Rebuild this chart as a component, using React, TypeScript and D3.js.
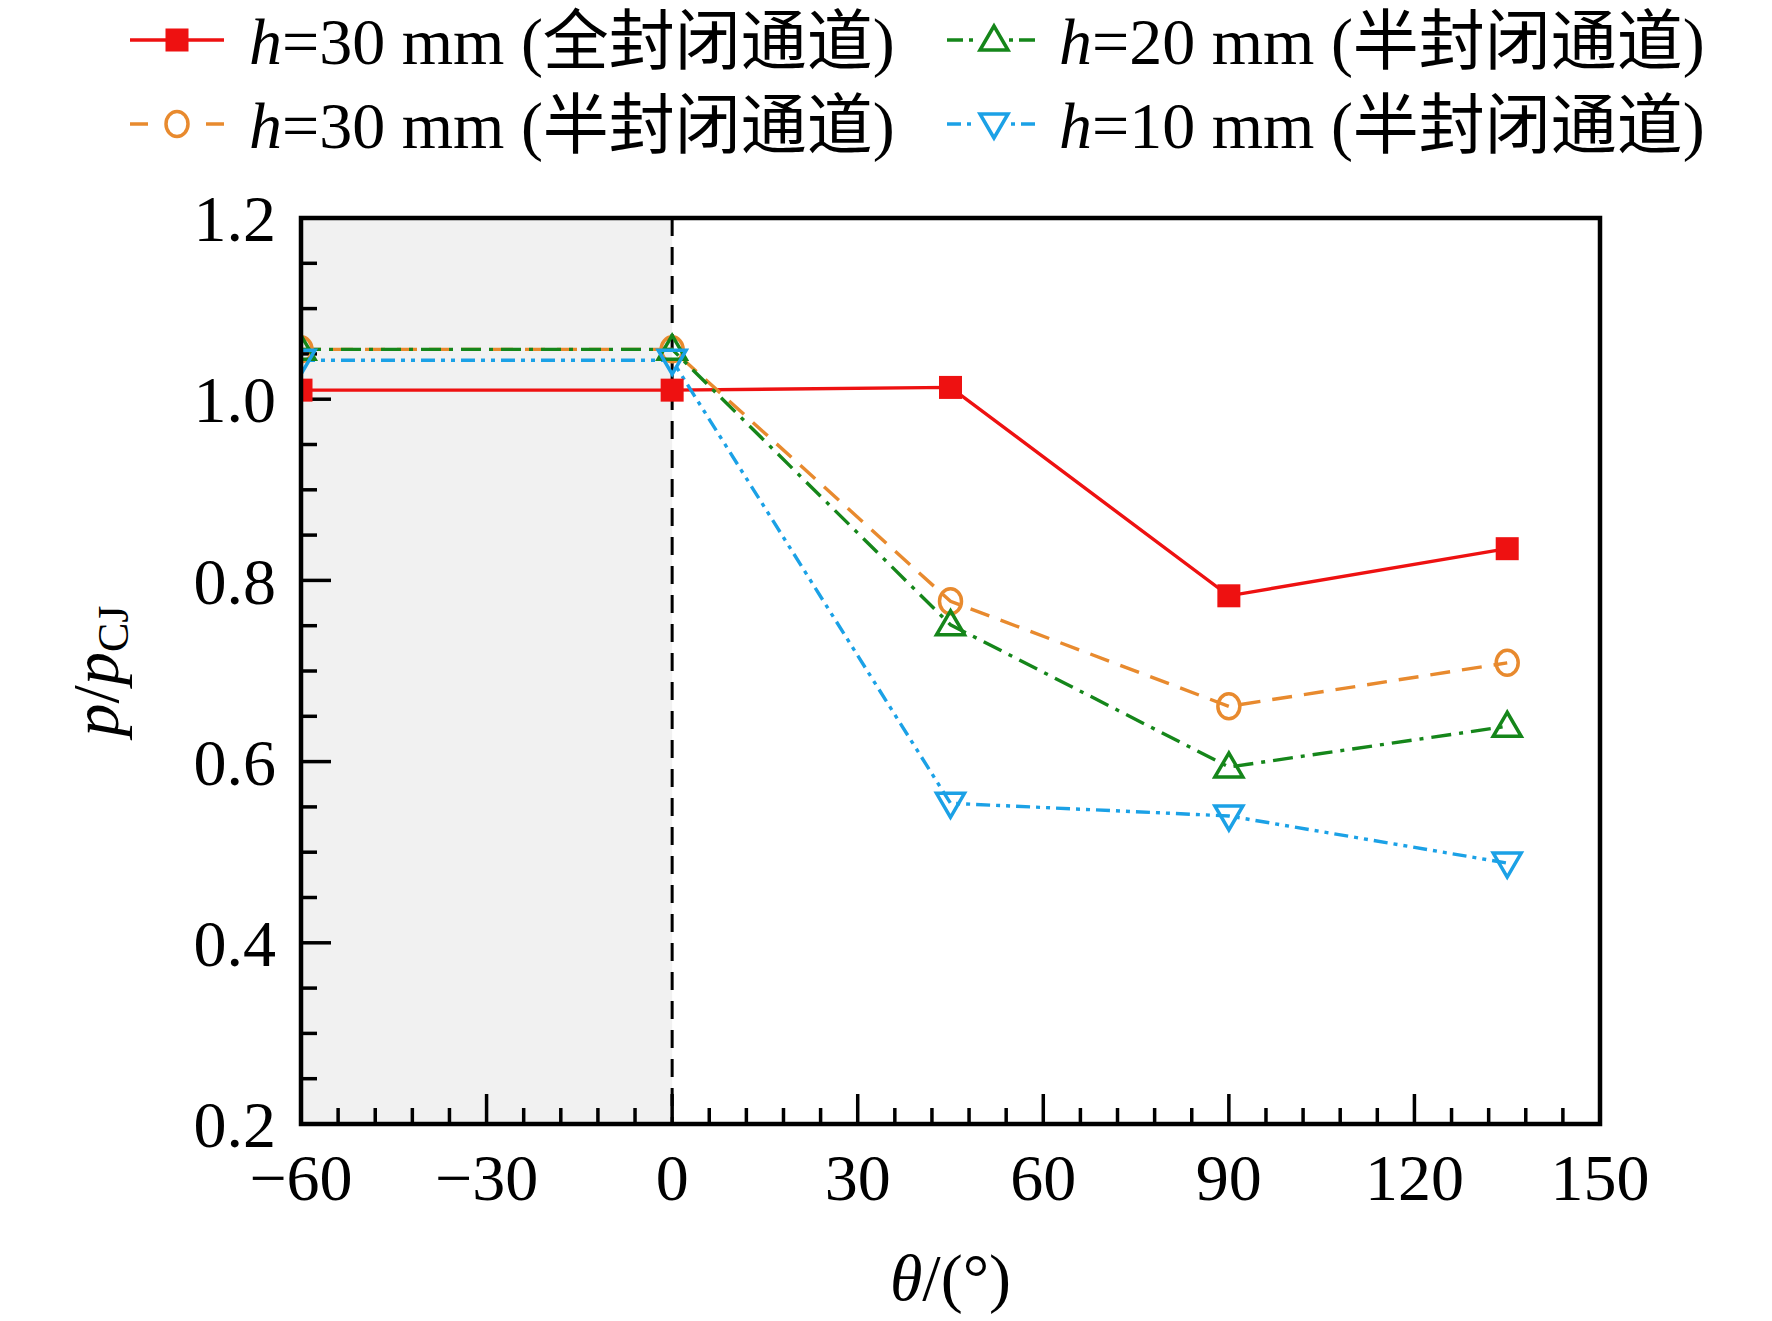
import * as d3 from "d3";

// angle positions (deg) shared by all series
const angles = [-60, 0, 45, 90, 135];

// p/pCJ
const closed30 = [1.01, 1.01, 1.013, 0.783, 0.835];
const semi30 = [1.055, 1.055, 0.777, 0.661, 0.709];
const semi20 = [1.055, 1.055, 0.751, 0.594, 0.639];
const semi10 = [1.043, 1.043, 0.554, 0.54, 0.488];

const seriesNames = [
  "=30 mm (全封闭通道)",
  "=30 mm (半封闭通道)",
  "=20 mm (半封闭通道)",
  "=10 mm (半封闭通道)",
];

const xTicks = [-60, -30, 0, 30, 60, 90, 120, 150];
const yTicks = [0.2, 0.4, 0.6, 0.8, 1.0, 1.2];

const W = 1772;
const H = 1321;
const M = { left: 301, right: 1600, top: 218, bottom: 1124 };
const FONT = "'Liberation Serif', 'Times New Roman', 'Noto Sans CJK SC', serif";

type Marker = "square" | "circle" | "up" | "down";

const series = [
  { name: seriesNames[0], values: closed30, color: "#ee1111", dash: "none", marker: "square" as Marker },
  { name: seriesNames[1], values: semi30, color: "#e88a2e", dash: "20 12", marker: "circle" as Marker },
  { name: seriesNames[2], values: semi20, color: "#15861a", dash: "20 8 4 8", marker: "up" as Marker },
  { name: seriesNames[3], values: semi10, color: "#1ba1e6", dash: "14 6 4 6 4 6", marker: "down" as Marker },
];

function MarkerShape({ type, x, y, color }: { type: Marker; x: number; y: number; color: string }) {
  if (type === "square") {
    return <rect x={x - 11.5} y={y - 11.5} width={23} height={23} fill={color} />;
  }
  if (type === "circle") {
    return <ellipse cx={x} cy={y} rx={11} ry={12.5} fill="none" stroke={color} strokeWidth={3.5} />;
  }
  const w = 14;
  const h = 12;
  const pts =
    type === "up"
      ? [[x, y - h - 2], [x - w, y + h - 2], [x + w, y + h - 2]]
      : [[x, y + h + 2], [x - w, y - h + 2], [x + w, y - h + 2]];
  return (
    <polygon
      points={pts.map((p) => p.join(",")).join(" ")}
      fill="none"
      stroke={color}
      strokeWidth={3.5}
      strokeLinejoin="miter"
    />
  );
}

export default function App() {
  const x = d3.scaleLinear().domain([-60, 150]).range([M.left, M.right]);
  const y = d3.scaleLinear().domain([0.2, 1.2]).range([M.bottom, M.top]);

  const line = d3
    .line<number>()
    .x((_d, i) => x(angles[i]))
    .y((d) => y(d));

  const xMinor = d3.range(-60, 151, 6).filter((v) => v % 30 !== 0);
  const yMinor = d3
    .range(1, 20)
    .map((k) => 0.2 + k * 0.05)
    .filter((_v, k) => (k + 1) % 4 !== 0);
  const fmtX = d3.format("d");
  const fmtY = d3.format(".1f");

  const legendPos = [
    { lx: 130, tx: 249, cy: 40 },
    { lx: 130, tx: 249, cy: 124 },
    { lx: 947, tx: 1059, cy: 40 },
    { lx: 947, tx: 1059, cy: 124 },
  ];
  const legendDash = ["none", "18 58 18", "16 6 4 36 4 6 16", "14 6 4 40 4 6 14"];

  return (
    <div style={{ position: "absolute", left: 0, top: 0 }}>
      <svg width={W} height={H} style={{ display: "block", background: "#fff" }} fontFamily={FONT}>
        <defs>
          <clipPath id="plot">
            <rect x={M.left} y={M.top} width={M.right - M.left} height={M.bottom - M.top} />
          </clipPath>
        </defs>

        {/* shaded region */}
        <rect x={x(-60)} y={M.top} width={x(0) - x(-60)} height={M.bottom - M.top} fill="#f1f1f1" />
        <line x1={x(0)} x2={x(0)} y1={M.top} y2={M.bottom} stroke="#000" strokeWidth={3} strokeDasharray="18 11" />

        {/* ticks */}
        {xTicks.map((t) => (
          <line key={"xt" + t} x1={x(t)} x2={x(t)} y1={M.bottom} y2={M.bottom - 30} stroke="#000" strokeWidth={3.5} />
        ))}
        {xMinor.map((t) => (
          <line key={"xm" + t} x1={x(t)} x2={x(t)} y1={M.bottom} y2={M.bottom - 16} stroke="#000" strokeWidth={3.5} />
        ))}
        {yTicks.map((t) => (
          <line key={"yt" + t} x1={M.left} x2={M.left + 30} y1={y(t)} y2={y(t)} stroke="#000" strokeWidth={3.5} />
        ))}
        {yMinor.map((t) => (
          <line key={"ym" + t} x1={M.left} x2={M.left + 16} y1={y(t)} y2={y(t)} stroke="#000" strokeWidth={3.5} />
        ))}

        {/* series */}
        <g clipPath="url(#plot)">
          {series.map((s) => (
            <path
              key={"l" + s.name}
              d={line(s.values) ?? ""}
              fill="none"
              stroke={s.color}
              strokeWidth={3.4}
              strokeDasharray={s.dash}
            />
          ))}
          {series.map((s) =>
            s.values.map((v, i) => (
              <MarkerShape key={s.name + i} type={s.marker} x={x(angles[i])} y={y(v)} color={s.color} />
            ))
          )}
        </g>

        {/* frame */}
        <rect
          x={M.left}
          y={M.top}
          width={M.right - M.left}
          height={M.bottom - M.top}
          fill="none"
          stroke="#000"
          strokeWidth={4.5}
        />

        {/* tick labels */}
        {xTicks.map((t) => (
          <text key={"xl" + t} x={x(t)} y={1200} textAnchor="middle" fontSize={66}>
            {fmtX(t)}
          </text>
        ))}
        {yTicks.map((t) => (
          <text key={"yl" + t} x={276} y={y(t)} dy="0.35em" textAnchor="end" fontSize={66}>
            {fmtY(t)}
          </text>
        ))}

        {/* axis titles */}
        <text x={x(45)} y={1300} textAnchor="middle" fontSize={66}>
          <tspan fontStyle="italic">θ</tspan>/(°)
        </text>
        <text transform={`translate(118, ${(M.top + M.bottom) / 2}) rotate(-90)`} textAnchor="middle" fontSize={66}>
          <tspan fontStyle="italic">p</tspan>/<tspan fontStyle="italic">p</tspan>
          <tspan fontSize={44} dy={10}>CJ</tspan>
        </text>

        {/* legend */}
        {series.map((s, i) => {
          const p = legendPos[i];
          return (
            <g key={"lg" + s.name}>
              <line
                x1={p.lx}
                x2={p.lx + 94}
                y1={p.cy}
                y2={p.cy}
                stroke={s.color}
                strokeWidth={3.4}
                strokeDasharray={legendDash[i]}
              />
              <MarkerShape type={s.marker} x={p.lx + 47} y={p.cy} color={s.color} />
              <text x={p.tx} y={p.cy} dy="0.36em" fontSize={66}>
                <tspan fontStyle="italic">h</tspan>
                {s.name}
              </text>
            </g>
          );
        })}
      </svg>
    </div>
  );
}
